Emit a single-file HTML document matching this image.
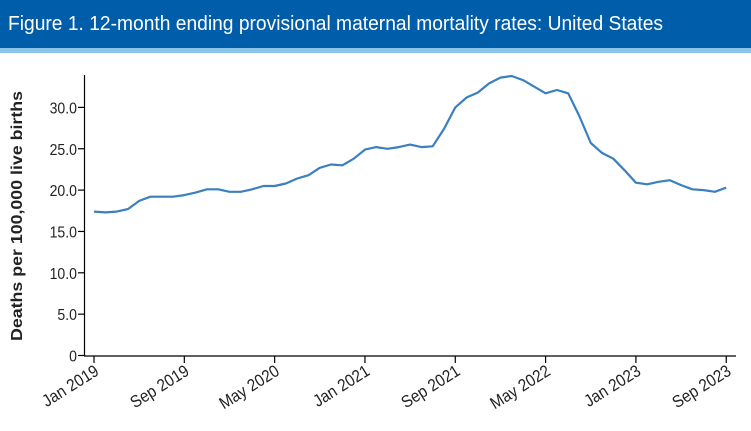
<!DOCTYPE html>
<html><head><style>
body{margin:0;width:751px;height:426px;background:#fff;overflow:hidden;font-family:"Liberation Sans",Arial,sans-serif}
</style></head><body>
<svg width="751" height="426" xmlns="http://www.w3.org/2000/svg" font-family="Liberation Sans, Arial, sans-serif">
<rect x="0" y="0" width="751" height="48" fill="#005DAA"/>
<rect x="0" y="48" width="751" height="5" fill="#8BC4E8"/>
<text x="8" y="30" fill="#fff" font-size="20" textLength="655" lengthAdjust="spacingAndGlyphs">Figure 1. 12-month ending provisional maternal mortality rates: United States</text>
<g stroke="#000" stroke-width="1.2" fill="none">
<line x1="84.5" y1="75" x2="84.5" y2="356"/>
<line x1="84" y1="356" x2="736" y2="356"/>
</g>
<g id="yt" font-size="16" fill="#222" text-anchor="end"></g>
<g id="xt" font-size="17" fill="#222" text-anchor="end"></g>
<text transform="translate(22,216) rotate(-90)" font-size="16" font-weight="bold" text-anchor="middle" fill="#222" textLength="250" lengthAdjust="spacingAndGlyphs">Deaths per 100,000 live births</text>
<polyline id="ln" fill="none" stroke="#3A7FC0" stroke-width="2.2" stroke-linejoin="round"/>
</svg>
<script>
var ns="http://www.w3.org/2000/svg";
function y(v){return 355.5-v*8.27}
var yt=document.getElementById("yt");
for(var i=0;i<=6;i++){var v=i*5,yy=y(v);
var t=document.createElementNS(ns,"text");t.setAttribute("transform","translate(77,"+(yy+6)+") scale(0.88,1)");t.textContent=i?v.toFixed(1):"0";yt.appendChild(t);
var l=document.createElementNS(ns,"line");l.setAttribute("x1",78);l.setAttribute("x2",84);l.setAttribute("y1",yy);l.setAttribute("y2",yy);l.setAttribute("stroke","#000");l.setAttribute("stroke-width","1.2");yt.appendChild(l);}
var labs=["Jan 2019","Sep 2019","May 2020","Jan 2021","Sep 2021","May 2022","Jan 2023","Sep 2023"];
var xt=document.getElementById("xt");
function x(m){return 94+m*11.29}
labs.forEach(function(s,i){var xx=x(i*8);
var l=document.createElementNS(ns,"line");l.setAttribute("x1",xx);l.setAttribute("x2",xx);l.setAttribute("y1",356);l.setAttribute("y2",363);l.setAttribute("stroke","#000");l.setAttribute("stroke-width","1.2");xt.appendChild(l);
var t=document.createElementNS(ns,"text");t.setAttribute("transform","translate("+(xx+6)+",374) rotate(-32) scale(0.9,1)");t.textContent=s;xt.appendChild(t);});
var d=[17.4,17.3,17.4,17.7,18.7,19.2,19.2,19.2,19.4,19.7,20.1,20.1,19.8,19.8,20.1,20.5,20.5,20.8,21.4,21.8,22.7,23.1,23.0,23.8,24.9,25.2,25.0,25.2,25.5,25.2,25.3,27.4,30.0,31.2,31.8,32.9,33.6,33.8,33.3,32.5,31.7,32.1,31.7,28.9,25.7,24.5,23.8,22.4,20.9,20.7,21.0,21.2,20.6,20.1,20.0,19.8,20.3];
document.getElementById("ln").setAttribute("points",d.map(function(v,i){return x(i).toFixed(1)+","+y(v).toFixed(1)}).join(" "));
</script>
</body></html>
